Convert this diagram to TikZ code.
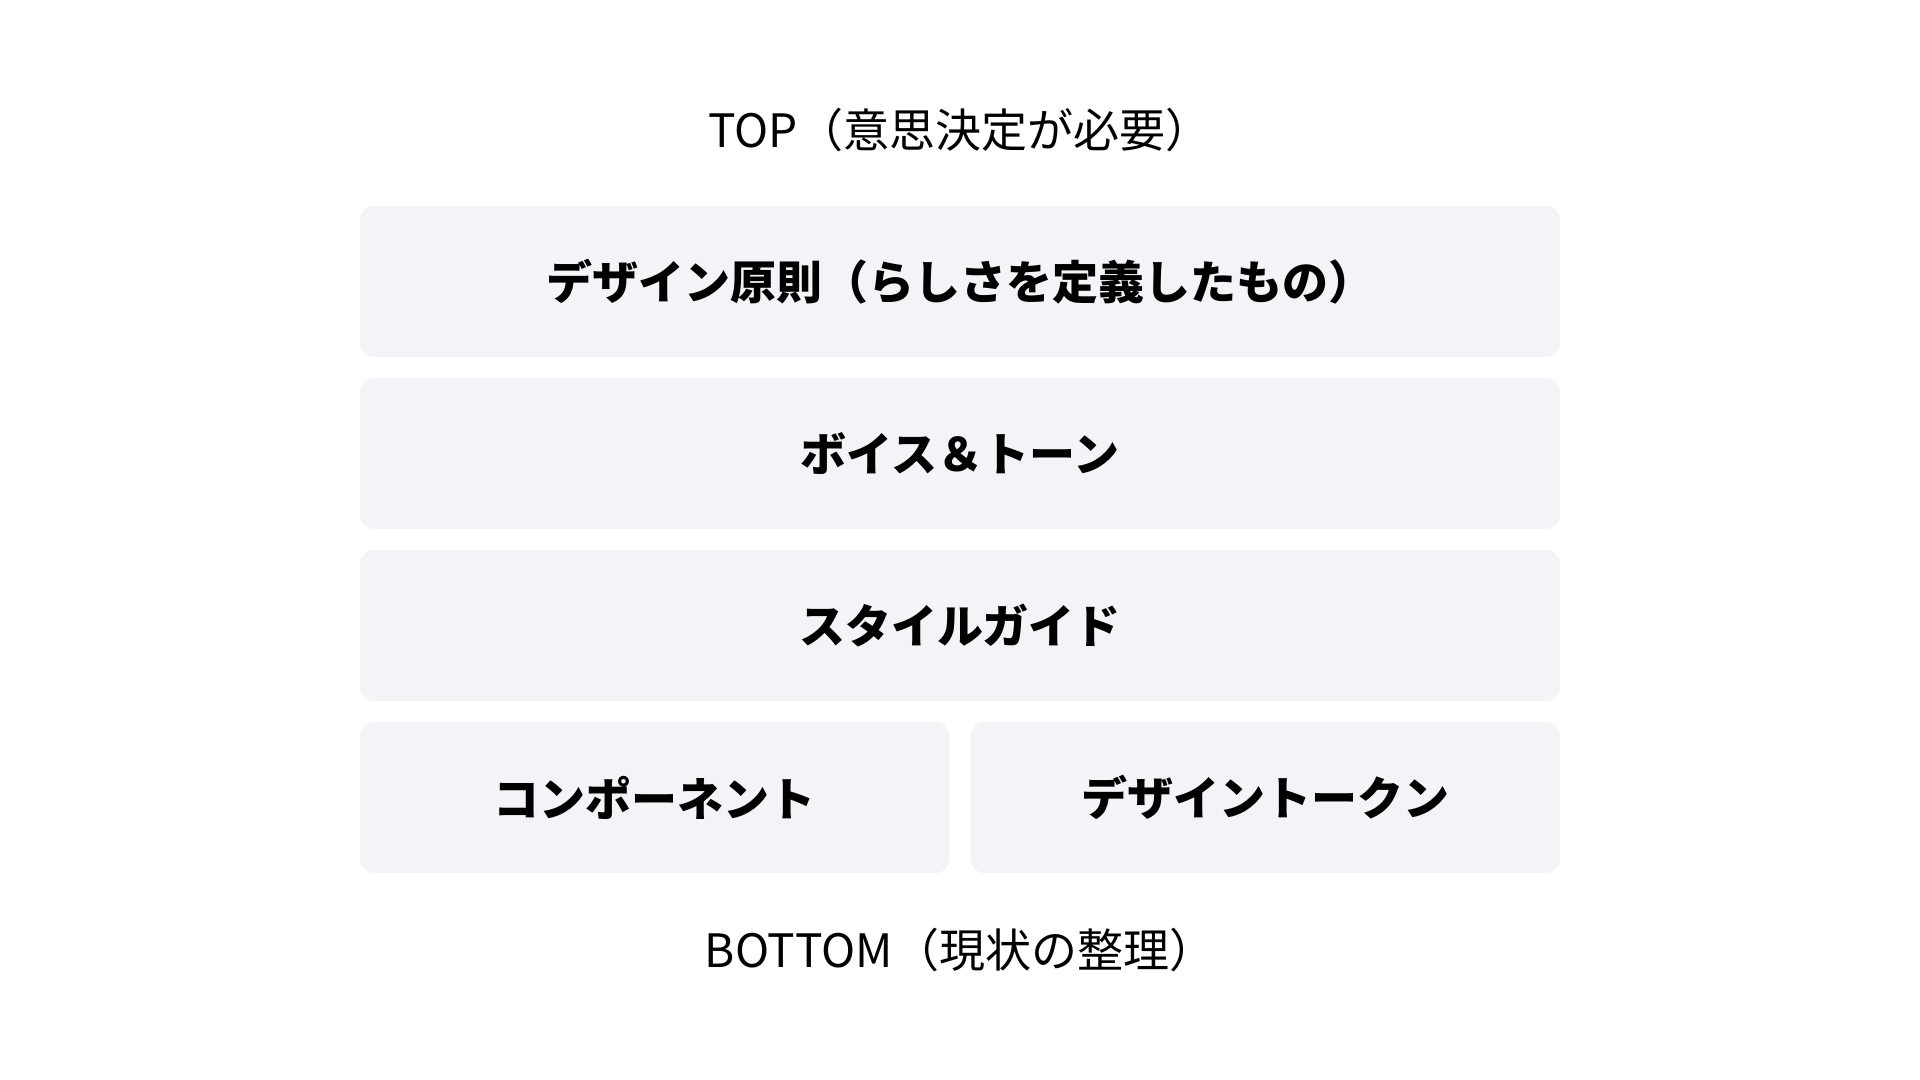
\documentclass[tikz,border=0pt]{standalone}
\usepackage{fontspec}
\setmainfont{Noto Sans CJK JP}
\definecolor{layerfill}{HTML}{F4F4F8}
\tikzset{
  layer/.style={fill=layerfill, draw=none, rounded corners=7pt, inner sep=0pt,
    minimum width=600pt, minimum height=75.5pt,
    font=\fontsize{23pt}{27pt}\selectfont\bfseries},
  halflayer/.style={layer, minimum width=294.75pt},
  endlabel/.style={anchor=base, inner sep=0pt, font=\fontsize{23pt}{27pt}\selectfont}
}
\begin{document}
\begin{tikzpicture}[x=0.5pt,y=-0.5pt]
    \useasboundingbox (0,0) rectangle (1920,1080) ;
    \node[endlabel] (top) at (960,148) {TOP（意思決定が必要）} ;
    \node[layer] (principle) at (960,281.5) {デザイン原則（らしさを定義したもの）} ;
    \node[layer] (voice) at (960,453.5) {ボイス＆トーン} ;
    \node[layer] (guide) at (960,625.5) {スタイルガイド} ;
    \node[halflayer] (component) at (654.75,797.5) {コンポーネント} ;
    \node[halflayer] (token) at (1265.25,797.5) {デザイントークン} ;
    \node[endlabel] (bottom) at (960,967) {BOTTOM（現状の整理）} ;
  \end{tikzpicture}
\end{document}
